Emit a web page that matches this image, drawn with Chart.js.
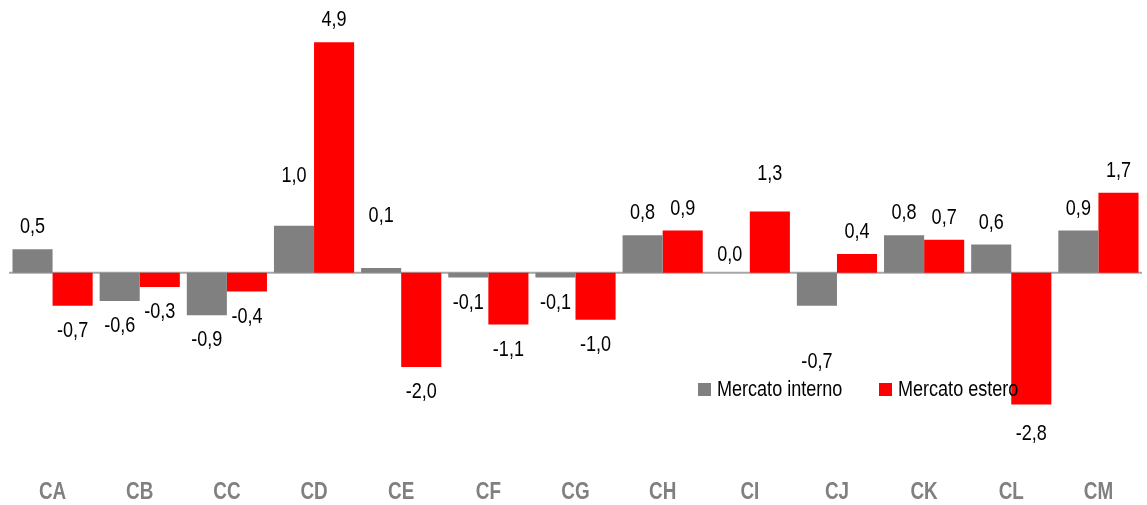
<!DOCTYPE html>
<html>
<head>
<meta charset="utf-8">
<script src="https://cdn.jsdelivr.net/npm/chart.js@4.4.1/dist/chart.umd.min.js"></script>
<style>
  html, body { margin: 0; padding: 0; background: #fff; }
  #wrap { width: 1147px; height: 505px; }
</style>
</head>
<body>
<div id="wrap"><canvas id="graph"></canvas></div>
<script>
// values
const categories = ['CA','CB','CC','CD','CE','CF','CG','CH','CI','CJ','CK','CL','CM'];
const interno = [0.5, -0.6, -0.9, 1.0, 0.1, -0.1, -0.1, 0.8, 0.0, -0.7, 0.8, 0.6, 0.9];
const estero  = [-0.7, -0.3, -0.4, 4.9, -2.0, -1.1, -1.0, 0.9, 1.3, 0.4, 0.7, -2.8, 1.7];
const seriesNames = ['Mercato interno', 'Mercato estero'];

// no Arial Narrow here, so squeeze Liberation Sans instead
const face = '"Liberation Sans", Arial, sans-serif';
const squeeze = 0.82;
function narrowText(c, text, x, y, align) {
    c.save();
    c.translate(x, y);
    c.scale(squeeze, 1);
    c.textAlign = align;
    c.fillText(text, 0, 0);
    c.restore();
}

// some labels in the original were nudged by hand
const labelShift = { '0:3': -28, '0:4': -30, '0:8': 4, '1:8': -16, '0:9': 31, '1:11': 4 };

const fmt = v => v.toFixed(1).replace('.', ',');

const zeroLine = {
    id: 'zeroLine',
    beforeDatasetsDraw(chart) {
        const y = chart.scales.y.getPixelForValue(0);
        const a = chart.chartArea;
        const c = chart.ctx;
        c.save();
        c.strokeStyle = '#a6a6a6';
        c.lineWidth = 2;
        c.beginPath();
        c.moveTo(a.left, y);
        c.lineTo(a.right, y);
        c.stroke();
        c.restore();
    }
};

const valueLabels = {
    id: 'valueLabels',
    afterDatasetsDraw(chart) {
        const c = chart.ctx;
        c.save();
        c.font = '22px ' + face;
        c.fillStyle = '#000';
        c.textBaseline = 'middle';
        chart.data.datasets.forEach((ds, i) => {
            chart.getDatasetMeta(i).data.forEach((bar, j) => {
                const v = ds.data[j];
                let y = v >= 0 ? bar.y - 22 : bar.y + 25;
                y += labelShift[i + ':' + j] || 0;
                narrowText(c, fmt(v), bar.x, y, 'center');
            });
        });
        c.restore();
    }
};

// category names under the plot, placed by the x scale
const catLabels = {
    id: 'catLabels',
    afterDraw(chart) {
        const c = chart.ctx;
        const xs = chart.scales.x;
        c.save();
        c.font = 'bold 23px ' + face;
        c.fillStyle = '#808080';
        c.textBaseline = 'middle';
        chart.data.labels.forEach((lab, i) => {
            narrowText(c, lab, xs.getPixelForTick(i), 493, 'center');
        });
        c.restore();
    }
};

const insideLegend = {
    id: 'insideLegend',
    afterDraw(chart) {
        const c = chart.ctx;
        const spots = [698, 879];
        c.save();
        c.font = '22px ' + face;
        c.textBaseline = 'middle';
        chart.data.datasets.forEach((ds, i) => {
            const x = spots[i];
            c.fillStyle = ds.backgroundColor;
            c.fillRect(x, 383, 13, 13);
            c.fillStyle = '#000';
            narrowText(c, ds.label, x + 19, 390, 'left');
        });
        c.restore();
    }
};

const ct1 = document.getElementById('graph').getContext('2d');
const myChart = new Chart(ct1, {
    type: 'bar',
    data: {
        labels: categories,
        datasets: [{
            label: seriesNames[0],
            data: interno,
            backgroundColor: '#808080',
            categoryPercentage: 0.92,
            barPercentage: 1
        }, {
            label: seriesNames[1],
            data: estero,
            backgroundColor: '#ff0000',
            categoryPercentage: 0.92,
            barPercentage: 1
        }]
    },
    options: {
        responsive: true,
        maintainAspectRatio: false,
        animation: false,
        layout: { padding: { top: 14, left: 9, right: 5, bottom: 44 } },
        plugins: {
            legend: { display: false },
            tooltip: { enabled: false }
        },
        scales: {
            x: { display: false },
            y: {
                display: false,
                min: -4,
                max: 5.5
            }
        }
    },
    plugins: [zeroLine, valueLabels, catLabels, insideLegend]
});
</script>
</body>
</html>
